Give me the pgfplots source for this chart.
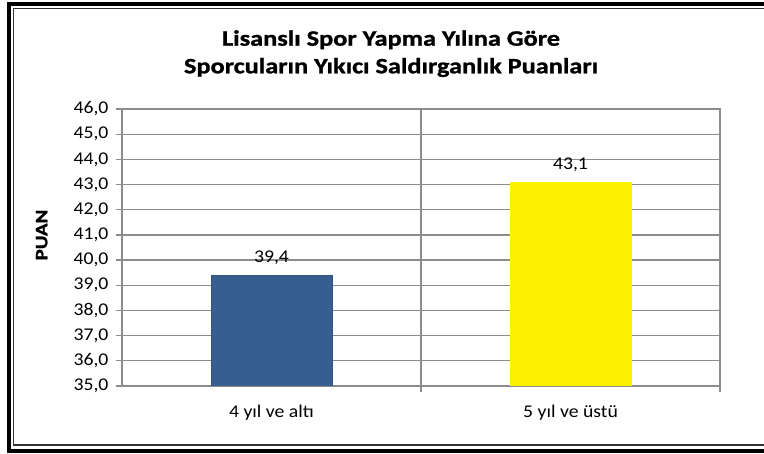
\documentclass[border=0pt]{standalone}
\usepackage{pgfplots}
\pgfplotsset{compat=1.18}
\usepackage{fontspec}
\setmainfont{Carlito}[FakeStretch=1.1]
\newfontfamily\titlefont{Carlito}[FakeStretch=1.2, BoldFeatures={FakeBold=1.2}]
\definecolor{barblue}{RGB}{54,94,142}
\definecolor{barblueedge}{RGB}{48,84,128}
\definecolor{gridgray}{RGB}{140,140,140}
\begin{document}
\begin{tikzpicture}[x=1bp,y=1bp]
\useasboundingbox (0,0) rectangle (764,454);
\draw[line width=4.5bp,black] (9,3) rectangle (790,450);
\draw[line width=1.5bp,black!80] (13.5,9) rectangle (785,445.5);
\node[anchor=base,font=\titlefont\bfseries\fontsize{22}{26}\selectfont] at (391,408.3) {Lisanslı Spor Yapma Yılına Göre};
\node[anchor=base,font=\titlefont\bfseries\fontsize{22}{26}\selectfont] at (391,380.7) {Sporcuların Yıkıcı Saldırganlık Puanları};
\node[rotate=90,font=\titlefont\bfseries\fontsize{17.5}{20}\selectfont] at (41.7,219) {PUAN};
\begin{axis}[
  at={(122bp,68bp)}, anchor=south west,
  scale only axis, width=598bp, height=277bp,
  xmin=-0.5, xmax=1.5, ymin=35, ymax=46,
  ytick={35,...,46},
  xtick={0.5,1.5}, xticklabels={},
  xmajorgrids, ymajorgrids,
  grid style={draw=gridgray, line width=1.3bp},
  axis line style={draw=gridgray, line width=1.3bp},
  tick style={draw=gridgray, line width=1.3bp},
  tick align=outside, tick pos=left,
  major tick length=6bp,
  extra x ticks={0,1},
  extra x tick labels={4 yıl ve altı, 5 yıl ve üstü},
  extra x tick style={major tick length=0pt, grid=none, xticklabel style={anchor=base, yshift=-32bp}},
  ticklabel style={font=\fontsize{18}{21}\selectfont},
  yticklabel style={xshift=-4bp},
  /pgf/number format/.cd, use comma, fixed, fixed zerofill, precision=1, assume math mode=true,
  /pgfplots/.cd,
  ybar, bar width=121bp, bar shift=0pt,
  nodes near coords,
  every node near coord/.append style={font=\fontsize{18}{21}\selectfont, black, anchor=base, yshift=13bp},
]
\addplot[fill=barblue, draw=barblueedge, line width=0.8bp] coordinates {(0,39.4)};
\addplot[fill=yellow, draw=yellow] coordinates {(1,43.1)};
\end{axis}
\end{tikzpicture}
\end{document}
